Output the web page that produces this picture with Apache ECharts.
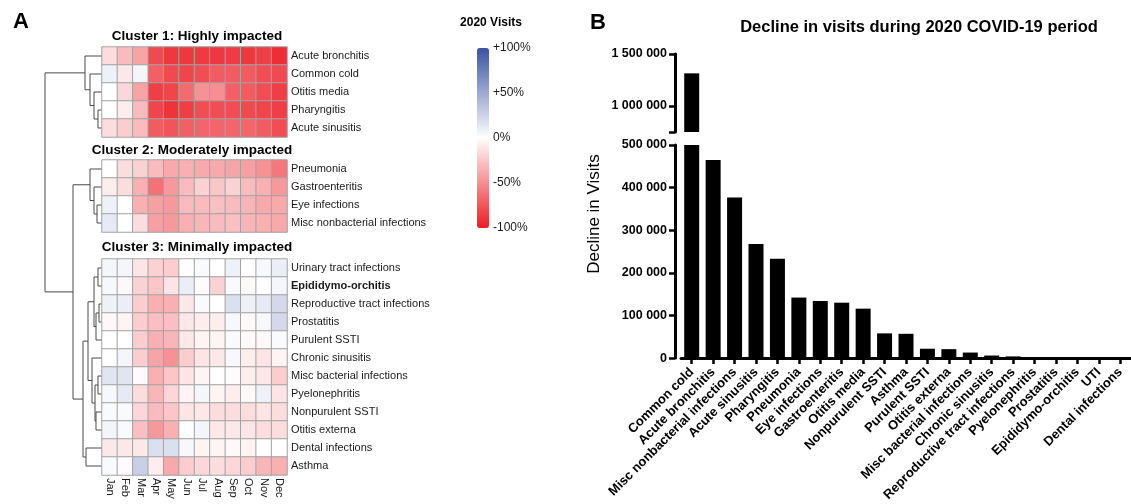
<!DOCTYPE html>
<html>
<head>
<meta charset="utf-8">
<script src="https://cdn.jsdelivr.net/npm/echarts@6/dist/echarts.min.js"></script>
<style>
  html, body { margin: 0; padding: 0; background: #fff; }
  #chart { width: 1131px; height: 504px; }
</style>
</head>
<body>
<div id="chart"></div>
<script>
const FONT = '"Liberation Sans", Arial, sans-serif'

// ---- panel A: % change in 2020 visits, by month ----
const months = ['Jan', 'Feb', 'Mar', 'Apr', 'May', 'Jun', 'Jul', 'Aug', 'Sep', 'Oct', 'Nov', 'Dec']

const cluster1Rows = ['Acute bronchitis', 'Common cold', 'Otitis media', 'Pharyngitis', 'Acute sinusitis']
const cluster1Values = [
  [-15, -30, -40, -80, -88, -88, -87, -88, -86, -88, -85, -92],
  [8, -10, 5, -70, -80, -82, -78, -72, -72, -72, -78, -80],
  [0, -18, -40, -85, -82, -65, -48, -50, -70, -72, -78, -85],
  [0, -8, -30, -82, -90, -85, -78, -78, -78, -80, -82, -85],
  [-15, -22, -30, -72, -75, -70, -68, -68, -68, -68, -72, -78]
]

const cluster2Rows = ['Pneumonia', 'Gastroenteritis', 'Eye infections', 'Misc nonbacterial infections']
const cluster2Values = [
  [0, -15, -20, -30, -38, -35, -38, -38, -40, -42, -48, -60],
  [-8, -15, -35, -62, -45, -30, -20, -25, -20, -30, -35, -45],
  [8, 0, -35, -42, -45, -30, -30, -28, -30, -33, -38, -38],
  [12, 0, -15, -42, -45, -35, -32, -30, -28, -33, -35, -38]
]

const cluster3Rows = ['Urinary tract infections', 'Epididymo-orchitis', 'Reproductive tract infections',
  'Prostatitis', 'Purulent SSTI', 'Chronic sinusitis', 'Misc bacterial infections', 'Pyelonephritis',
  'Nonpurulent SSTI', 'Otitis externa', 'Dental infections', 'Asthma']
const cluster3Values = [
  [5, 5, -12, -20, -22, 0, 3, 0, 8, 0, 4, 10],
  [4, -3, -20, -25, -12, 10, -2, -20, 3, -3, 0, 5],
  [8, 10, -22, -35, -35, -10, 3, 0, 18, 8, 12, 22],
  [-3, -5, -22, -28, -28, -10, -8, -8, 4, -3, 4, 22],
  [0, 0, -22, -35, -32, -10, -5, -5, 3, -3, -3, 3],
  [0, 5, -22, -40, -48, -22, -12, -10, 4, -8, -12, -5],
  [15, 15, -2, -35, -25, -12, -5, 0, -2, -8, -10, -22],
  [4, 12, -15, -32, -18, -5, 5, -5, -8, -3, 8, -12],
  [3, 3, -18, -30, -25, -12, -10, -15, -15, -15, -12, -15],
  [6, 3, -28, -45, -35, 0, 6, -10, -10, -12, -15, -15],
  [-10, -10, -10, 18, 18, 4, -5, -5, -3, -5, 0, 0],
  [3, -2, 28, -8, -38, -22, -18, -15, -18, -22, -32, -35]
]

const colorTicks = [-100, -50, 0, 50, 100]

// dendrogram merges: [childA, childB, height]; a number refers to an earlier merge
const dendroMerges = [
  ['Pharyngitis', 'Acute sinusitis', 0.4],
  ['Otitis media', 0, 0.8],
  ['Common cold', 1, 1.2],
  ['Acute bronchitis', 2, 1.7],
  ['Eye infections', 'Misc nonbacterial infections', 0.5],
  ['Gastroenteritis', 4, 0.8],
  ['Pneumonia', 5, 1.2],
  ['Urinary tract infections', 'Epididymo-orchitis', 0.4],
  ['Reproductive tract infections', 'Prostatitis', 0.3],
  [8, 'Purulent SSTI', 0.6],
  [7, 9, 0.8],
  ['Misc bacterial infections', 'Pyelonephritis', 0.4],
  ['Nonpurulent SSTI', 'Otitis externa', 0.6],
  [11, 12, 0.7],
  ['Chronic sinusitis', 13, 1.0],
  [10, 14, 1.4],
  ['Dental infections', 'Asthma', 1.6],
  [15, 16, 1.9],
  [6, 17, 2.9],
  [3, 18, 5.7]
]
const dendroMaxHeight = 5.7

// ---- panel B: decline in visits ----
const declineCategories = ['Common cold', 'Acute bronchitis', 'Misc nonbacterial infections', 'Acute sinusitis',
  'Pharyngitis', 'Pneumonia', 'Eye infections', 'Gastroenteritis', 'Otitis media', 'Nonpurulent SSTI',
  'Asthma', 'Purulent SSTI', 'Otitis externa', 'Misc bacterial infections', 'Chronic sinusitis',
  'Reproductive tract infections', 'Pyelonephritis', 'Prostatitis', 'Epididymo-orchitis', 'UTI',
  'Dental infections']
const declineValues = [1314000, 465000, 377000, 268000, 233000, 142000, 134000, 130000, 116000, 58000,
  57000, 22000, 21000, 13000, 6000, 4000, 1500, 800, 500, 400, 300]

const breakLow = 500000
const breakHigh = 750000
const upperMax = 1500000
const upperTicks = [1000000, 1500000]

const toCells = values => {
  const cells = []
  values.forEach((row, r) => row.forEach((v, m) => cells.push([m, r, v])))
  return cells
}
const spaced = v => String(v).replace(/\B(?=(\d{3})+(?!\d))/g, ' ')

const heatGrids = [
  { top: 47, height: 90 },
  { top: 160, height: 72 },
  { top: 259, height: 216 }
]
const clusterRows = [cluster1Rows, cluster2Rows, cluster3Rows]
const clusterValues = [cluster1Values, cluster2Values, cluster3Values]

const heatYAxis = rows => ({
  type: 'category',
  data: rows,
  inverse: true,
  position: 'right',
  axisLine: { show: false },
  axisTick: { show: false },
  axisLabel: {
    fontFamily: FONT,
    fontSize: 11,
    color: '#1a1a1a',
    margin: 4,
    formatter: v => (v === 'Epididymo-orchitis' ? '{b|' + v + '}' : v),
    rich: { b: { fontFamily: FONT, fontSize: 11, fontWeight: 'bold', color: '#1a1a1a' } }
  }
})

const barAxisLine = { show: true, lineStyle: { color: '#000', width: 3 } }
const barTick = { show: true, length: 6, lineStyle: { color: '#000', width: 2.5 } }
const barLabel = { fontFamily: FONT, fontSize: 12.5, fontWeight: 'bold', color: '#000', margin: 8 }

const option = {
  animation: false,
  textStyle: { fontFamily: FONT },
  grid: [
    ...heatGrids.map(g => ({ left: 102, width: 185, top: g.top, height: g.height })),
    { left: 477, width: 12, top: 48, height: 180 },   // colour bar labels
    { left: 45, width: 57, top: 47, height: 428 },    // dendrogram
    { left: 681, width: 450, top: 54, height: 78 },   // upper bar segment
    { left: 681, width: 450, top: 145, height: 214 }  // lower bar segment
  ],
  xAxis: [
    { gridIndex: 0, type: 'category', data: months, show: false },
    { gridIndex: 1, type: 'category', data: months, show: false },
    {
      gridIndex: 2, type: 'category', data: months,
      axisLine: { show: false }, axisTick: { show: false },
      axisLabel: { rotate: -90, fontFamily: FONT, fontSize: 11, color: '#1a1a1a', margin: 3 }
    },
    { gridIndex: 3, type: 'value', show: false },
    { gridIndex: 4, type: 'value', min: 0, max: dendroMaxHeight, inverse: true, show: false },
    { gridIndex: 5, type: 'category', data: declineCategories, show: false },
    {
      gridIndex: 6, type: 'category', data: declineCategories,
      axisLine: barAxisLine,
      axisTick: { show: true, alignWithLabel: true, length: 6, lineStyle: { color: '#000', width: 2.5 } },
      axisLabel: { rotate: 45, interval: 0, fontFamily: FONT, fontSize: 13, fontWeight: 'bold', color: '#000', margin: 12 }
    }
  ],
  yAxis: [
    ...clusterRows.map((rows, i) => Object.assign({ gridIndex: i }, heatYAxis(rows))),
    {
      gridIndex: 3, type: 'value', min: colorTicks[0], max: colorTicks[colorTicks.length - 1], interval: 50,
      position: 'right', splitLine: { show: false }, axisLine: { show: false }, axisTick: { show: false },
      axisLabel: {
        fontFamily: FONT, fontSize: 12, color: '#1a1a1a', margin: 4,
        formatter: v => (v > 0 ? '+' + v + '%' : v + '%')
      }
    },
    { gridIndex: 4, type: 'value', min: 0, max: 1, show: false },
    {
      gridIndex: 5, type: 'value', min: breakHigh, max: upperMax, offset: 6,
      splitLine: { show: false }, axisLine: barAxisLine,
      axisTick: Object.assign({ customValues: [breakHigh].concat(upperTicks) }, barTick),
      axisLabel: Object.assign({ customValues: upperTicks, formatter: spaced }, barLabel)
    },
    {
      gridIndex: 6, type: 'value', min: 0, max: breakLow, interval: 100000, offset: 6,
      splitLine: { show: false }, axisLine: barAxisLine, axisTick: barTick,
      axisLabel: Object.assign({ formatter: spaced }, barLabel)
    }
  ],
  visualMap: {
    type: 'continuous',
    seriesIndex: [0, 1, 2],
    min: -100,
    max: 100,
    orient: 'vertical',
    left: 477,
    top: 48,
    padding: 0,
    itemWidth: 12,
    itemHeight: 180,
    calculable: false,
    hoverLink: false,
    inRange: { color: ['#ec1c24', '#ffffff', '#3953a4'] }
  },
  series: [
    ...clusterValues.map((values, i) => ({
      type: 'heatmap',
      xAxisIndex: i,
      yAxisIndex: i,
      data: toCells(values),
      itemStyle: { borderColor: '#a3a3a3', borderWidth: 1 },
      emphasis: { disabled: true }
    })),
    {
      type: 'bar', xAxisIndex: 5, yAxisIndex: 5, barWidth: 15,
      data: declineValues.map(v => (v > breakHigh ? v : '-')),
      itemStyle: { color: '#000' }
    },
    {
      type: 'bar', xAxisIndex: 6, yAxisIndex: 6, barWidth: 15,
      data: declineValues,
      itemStyle: { color: '#000' }
    }
  ]
}

const myChart = echarts.init(document.getElementById('chart'), null, { renderer: 'canvas' })
myChart.setOption(option)

// texts
const text = (str, x, y, size, weight, extra) => Object.assign({
  type: 'text',
  x: x,
  y: y,
  style: {
    text: str, fill: '#000', font: weight + ' ' + size + 'px ' + FONT,
    textAlign: 'center', textVerticalAlign: 'middle'
  }
}, extra || {})

const labels = [
  text('A', 21, 22, 22, 'bold'),
  text('B', 598, 23, 22, 'bold'),
  text('Cluster 1: Highly impacted', 197, 36, 13.5, 'bold'),
  text('Cluster 2: Moderately impacted', 192, 150, 13.5, 'bold'),
  text('Cluster 3: Minimally impacted', 197, 247, 13.5, 'bold'),
  text('2020 Visits', 491, 23, 12, 'bold'),
  text('Decline in visits during 2020 COVID-19 period', 919, 27, 16.5, 'bold'),
  text('Decline in Visits', 594, 214, 17, 'normal', { rotation: Math.PI / 2 })
]

// dendrogram from the heatmap row positions and the dendrogram height axis
const leafY = name => {
  for (let k = 0; k < clusterRows.length; k++) {
    const idx = clusterRows[k].indexOf(name)
    if (idx >= 0) return myChart.convertToPixel({ yAxisIndex: k }, idx)
  }
}
const hx = h => myChart.convertToPixel({ xAxisIndex: 4 }, h)
const nodes = []
const branches = []
dendroMerges.forEach(([a, b, h]) => {
  const pos = c => (typeof c === 'number' ? nodes[c] : { h: 0, y: leafY(c) })
  const pa = pos(a)
  const pb = pos(b)
  const x = hx(h)
  nodes.push({ h: h, y: (pa.y + pb.y) / 2 })
  branches.push({
    type: 'polyline',
    shape: { points: [[hx(pa.h), pa.y], [x, pa.y], [x, pb.y], [hx(pb.h), pb.y]] },
    style: { stroke: '#4a4a4a', lineWidth: 1, fill: null }
  })
})

myChart.setOption({ graphic: labels.concat(branches) })
window.addEventListener('resize', () => myChart.resize())
</script>
</body>
</html>
